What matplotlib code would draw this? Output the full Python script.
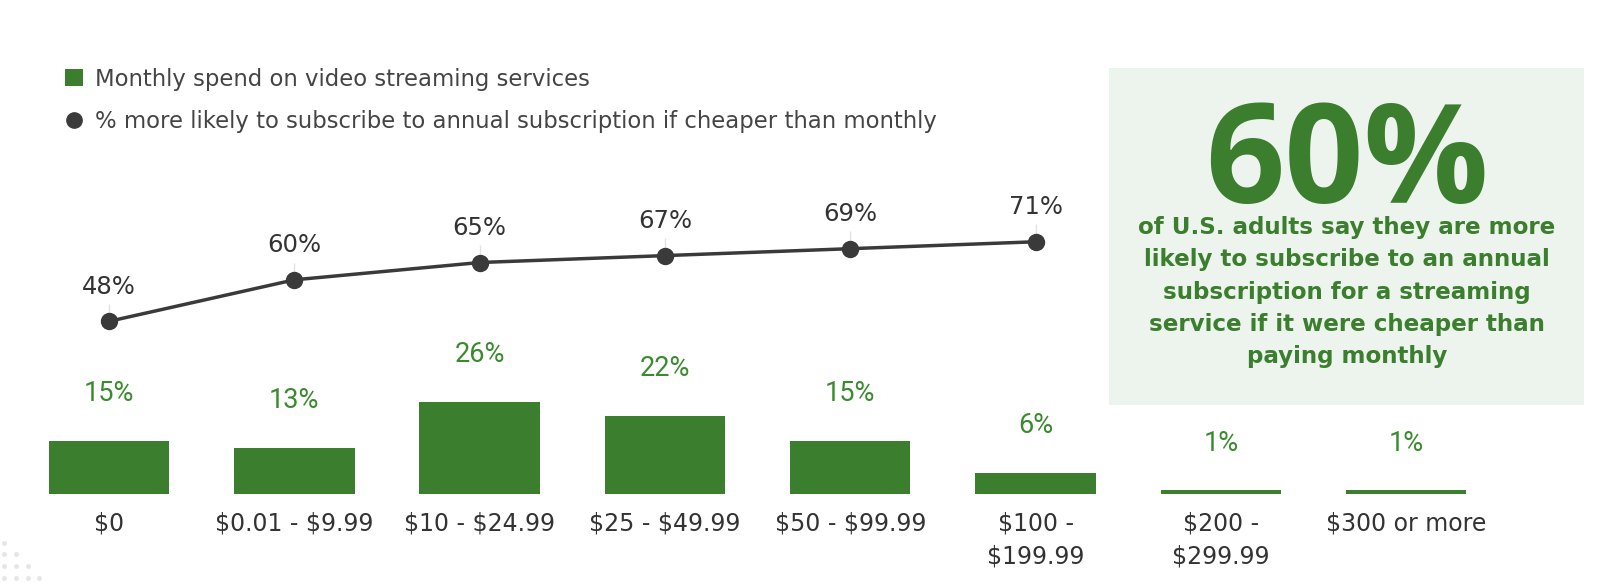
import matplotlib.pyplot as plt
from matplotlib.patches import Rectangle, Patch
from matplotlib.lines import Line2D

plt.rcParams["text.parse_math"] = False

# ---- data ----
categories = ["$0", "$0.01 - $9.99", "$10 - $24.99", "$25 - $49.99",
              "$50 - $99.99", "$100 -\n$199.99", "$200 -\n$299.99", "$300 or more"]
monthly_spend = [15, 13, 26, 22, 15, 6, 1, 1]
more_likely = [48, 60, 65, 67, 69, 71]

bar_label = "Monthly spend on video streaming services"
line_label = "% more likely to subscribe to annual subscription if cheaper than monthly"
big_stat = "60%"
stat_text = ("of U.S. adults say they are more\nlikely to subscribe to an annual\n"
             "subscription for a streaming\nservice if it were cheaper than\npaying monthly")

GREEN = "#3b7e2e"
LABEL_GREEN = "#3a8a2e"
DARK = "#3a3a3a"

W, H = 1600, 583
fig = plt.figure(figsize=(W / 100, H / 100), dpi=100)

# ---- callout box (behind everything) ----
fig.add_artist(Rectangle((1109 / W, 1 - 405 / H), 475 / W, 337 / H,
                         transform=fig.transFigure, facecolor="#edf4ee",
                         edgecolor="none", zorder=0))
fig.text(1347 / W, 1 - 203 / H, big_stat, ha="center", va="baseline",
         fontsize=100, fontweight="bold", family=["Open Sans", "DejaVu Sans"],
         color=GREEN, zorder=2)
fig.text(1347 / W, 1 - 292 / H, stat_text, ha="center", va="center",
         multialignment="center", fontsize=16.6, fontweight="bold",
         family="DejaVu Sans", color=GREEN, linespacing=1.52, zorder=2)

# ---- main axes ----
ax = fig.add_axes([0, (H - 494) / H, 1, 344 / H])
ax.patch.set_alpha(0)
x = list(range(len(categories)))
ax.bar(x, monthly_spend, width=0.65, color=GREEN, zorder=2)
ax.set_xlim(-0.588, 8.046)
ax.set_ylim(0, 344 / 3.55)
for xi, v in zip(x, monthly_spend):
    ax.annotate(f"{v}%", (xi, v), xytext=(0, 34), textcoords="offset points",
                ha="center", va="center", fontsize=19.5, color=LABEL_GREEN,
                family=["Roboto", "DejaVu Sans"])

ax.set_xticks(x)
ax.set_xticklabels(categories, fontsize=17, color="#333333", linespacing=1.5)
ax.tick_params(axis="x", length=0, pad=12.5)
ax.set_yticks([])
for s in ax.spines.values():
    s.set_visible(False)

# line on its own scale
ax2 = ax.twinx()
ax2.set_ylim(-1.9, -1.9 + 344 / 3.46)
ax2.set_yticks([])
for s in ax2.spines.values():
    s.set_visible(False)
xl = x[:len(more_likely)]
ax2.vlines(xl, more_likely, [v + 5 for v in more_likely], color="#e2e2e2", lw=1, zorder=1)
ax2.plot(xl, more_likely, color=DARK, lw=2.5, marker="o", markersize=11.5, zorder=3)
for xi, v in zip(xl, more_likely):
    ax2.annotate(f"{v}%", (xi, v), xytext=(0, 25), textcoords="offset points",
                 ha="center", va="center", fontsize=17.5, color="#333333")

# ---- legend ----
handles = [Patch(facecolor=GREEN, edgecolor="none"),
           Line2D([], [], color=DARK, marker="o", ls="", markersize=11)]
fig.legend(handles, [bar_label, line_label], loc="upper left",
           bbox_to_anchor=(44 / W, 1 - 47 / H), frameon=False, fontsize=16.4,
           handlelength=0.8, handleheight=0.8, handletextpad=0.55, labelspacing=0.85,
           labelcolor="#444444")

# ---- decorative dots bottom-left ----
dx, dy = [4, 16, 28, 39], [543, 554, 566, 578]
px, py = [], []
for r, yy in enumerate(dy):
    for c in range(r + 1):
        px.append(dx[c] / W)
        py.append(1 - yy / H)
fig.add_artist(Line2D(px, py, transform=fig.transFigure, ls="", marker="o",
                      markersize=3.5, color="#e6e6e6", markeredgecolor="none"))

fig.savefig("out.png", dpi=100)
